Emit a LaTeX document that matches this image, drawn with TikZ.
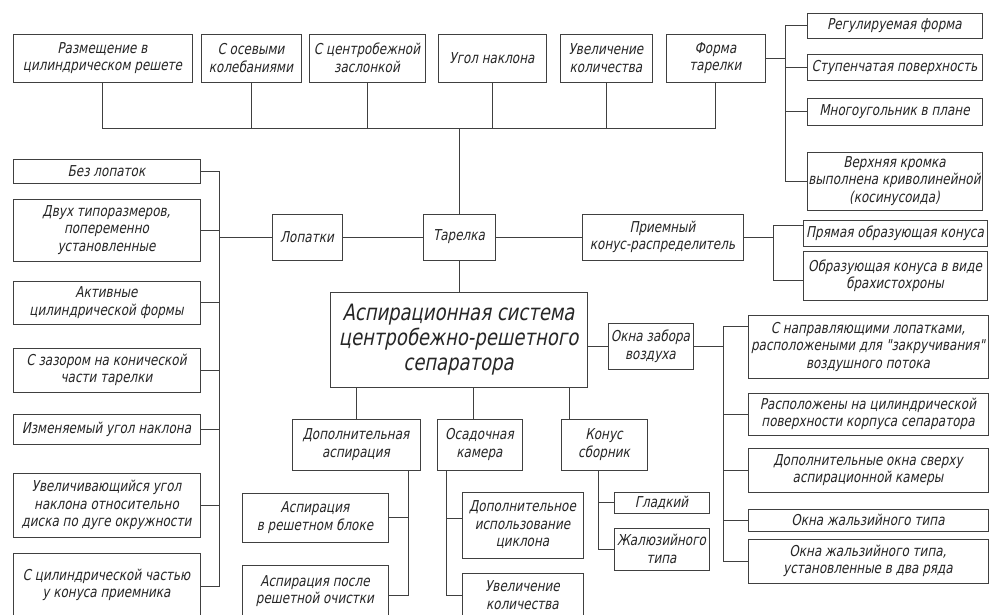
\documentclass[tikz,border=0pt]{standalone}
\usepackage{fontspec}
\newfontfamily\gost{DejaVu Sans}[FakeSlant=0.2, FakeStretch=0.8]
\begin{document}
\begin{tikzpicture}[x=1pt,y=-1pt,
  box/.style={draw=black!75, line width=0.8pt, rectangle, align=center, inner sep=1pt,
    font=\gost\fontsize{15}{17.5}\selectfont, text=black!85},
  ln/.style={draw=black!75, line width=0.8pt}]
\useasboundingbox (0,0) rectangle (989,614);
\fill[white] (0,0) rectangle (989,614);
% top row
\node[box, minimum width=179pt, minimum height=48pt] (t1) at (102.5,58) {Размещение в\\цилиндрическом решете};
\node[box, minimum width=100pt, minimum height=48pt] (t2) at (251,58) {С осевыми\\колебаниями};
\node[box, minimum width=116pt, minimum height=48pt] (t3) at (367,58) {С центробежной\\заслонкой};
\node[box, minimum width=108pt, minimum height=48pt] (t4) at (492,58) {Угол наклона};
\node[box, minimum width=92pt, minimum height=48pt] (t5) at (606,58) {Увеличение\\количества};
\node[box, minimum width=99pt, minimum height=48pt] (t6) at (715.5,58) {Форма\\тарелки};
% right of form
\node[box, minimum width=175pt, minimum height=25pt] (r1) at (894.5,25.5) {Регулируемая форма};
\node[box, minimum width=175pt, minimum height=26pt] (r2) at (894.5,67) {Ступенчатая поверхность};
\node[box, minimum width=175pt, minimum height=27pt] (r3) at (894.5,111.5) {Многоугольник в плане};
\node[box, minimum width=175pt, minimum height=58pt] (r4) at (894.5,181) {Верхняя кромка\\выполнена криволинейной\\(косинусоида)};
% middle row
\node[box, minimum width=72pt, minimum height=46pt] (tar) at (459,237) {Тарелка};
\node[box, minimum width=70pt, minimum height=46pt] (lop) at (307,237) {Лопатки};
\node[box, minimum width=161pt, minimum height=46pt] (pri) at (662.5,237) {Приемный\\конус-распределитель};
\node[box, minimum width=184pt, minimum height=26pt] (p1) at (895,233) {Прямая образующая конуса};
\node[box, minimum width=184pt, minimum height=49pt] (p2) at (895,275.5) {Образующая конуса в виде\\брахистохроны};
% left column
\node[box, minimum width=187pt, minimum height=24pt] (l1) at (106.5,171) {Без лопаток};
\node[box, minimum width=187pt, minimum height=62pt] (l2) at (106.5,230) {Двух типоразмеров,\\попеременно\\установленные};
\node[box, minimum width=187pt, minimum height=43pt] (l3) at (106.5,302.5) {Активные\\цилиндрической формы};
\node[box, minimum width=187pt, minimum height=44pt] (l4) at (106.5,370) {С зазором на конической\\части тарелки};
\node[box, minimum width=187pt, minimum height=30pt] (l5) at (106.5,429) {Изменяемый угол наклона};
\node[box, minimum width=187pt, minimum height=64pt] (l6) at (106.5,505) {Увеличивающийся угол\\наклона относительно\\диска по дуге окружности};
\node[box, minimum width=187pt, minimum height=64pt] (l7) at (106.5,585) {С цилиндрической частью\\у конуса приемника};
% main
\node[box, minimum width=257pt, minimum height=95pt, font=\gost\fontsize{22.5}{25}\selectfont] (main) at (458.5,339.5) {Аспирационная система\\центробежно-решетного\\сепаратора};
\node[box, minimum width=85pt, minimum height=46pt] (ok) at (650.5,346) {Окна забора\\воздуха};
% right column
\node[box, minimum width=240pt, minimum height=63pt] (o1) at (868,346.5) {С направляющими лопатками,\\расположеными для "закручивания"\\воздушного потока};
\node[box, minimum width=240pt, minimum height=42pt] (o2) at (868,414) {Расположены на цилиндрической\\поверхности корпуса сепаратора};
\node[box, minimum width=240pt, minimum height=44pt] (o3) at (868,470) {Дополнительные окна сверху\\аспирационной камеры};
\node[box, minimum width=240pt, minimum height=22pt] (o4) at (868,520) {Окна жальзийного типа};
\node[box, minimum width=240pt, minimum height=44pt] (o5) at (868,561) {Окна жальзийного типа,\\установленные в два ряда};
% bottom branches
\node[box, minimum width=128pt, minimum height=51pt] (d1) at (356,444.5) {Дополнительная\\аспирация};
\node[box, minimum width=85pt, minimum height=51pt] (d2) at (479.5,444.5) {Осадочная\\камера};
\node[box, minimum width=86pt, minimum height=51pt] (d3) at (604,444.5) {Конус\\сборник};
\node[box, minimum width=146pt, minimum height=49pt] (a1) at (315,517.5) {Аспирация\\в решетном блоке};
\node[box, minimum width=146pt, minimum height=52pt] (a2) at (315,591) {Аспирация после\\решетной очистки};
\node[box, minimum width=121pt, minimum height=66pt] (c1) at (522.5,525) {Дополнительное\\использование\\циклона};
\node[box, minimum width=121pt, minimum height=44pt] (c2) at (522.5,595) {Увеличение\\количества};
\node[box, minimum width=95pt, minimum height=21pt] (k1) at (661.5,502.5) {Гладкий};
\node[box, minimum width=95pt, minimum height=42pt] (k2) at (661.5,549) {Жалюзийного\\типа};
% junction coordinates
\coordinate (bus) at (tar.north |- 0,128);
\coordinate (fj) at ([xshift=20pt]t6.east);
\coordinate (lj) at ([xshift=-52pt]lop.west);
\coordinate (pj) at ([xshift=30pt]pri.east);
\coordinate (oj) at ([xshift=30pt]ok.east);
\coordinate (d1b) at ([xshift=52pt]d1.south);
\coordinate (d2b) at ([xshift=-33.5pt]d2.south);
\coordinate (d3b) at ([xshift=-6pt]d3.south);
\coordinate (d2t) at ([xshift=-6.5pt]d2.north);
\coordinate (d3t) at ([xshift=-35pt]d3.north);
% connectors
\foreach \n in {t1,t2,t3,t4,t5,t6} \draw[ln] (\n.south) |- (bus);
\draw[ln] (bus) -- (tar.north);
\draw[ln] (t6.east) -- (fj);
\foreach \n in {r1,r2,r3,r4} \draw[ln] (\n.west) -| (fj);
\draw[ln] (lop.east) -- (tar.west);
\draw[ln] (lop.west) -- (lj);
\foreach \n in {l1,l2,l3,l4,l5,l6} \draw[ln] (\n.east) -| (lj);
\draw[ln] ([yshift=-1pt]l7.east) -| (lj);
\draw[ln] (tar.east) -- (pri.west);
\draw[ln] (pri.east) -- (pj);
\draw[ln] ([yshift=8pt]p1.west) -| (pj);
\draw[ln] ([yshift=-4.5pt]p2.west) -| (pj);
\draw[ln] (tar.south) -- (tar.south |- main.north);
\draw[ln] (ok.west -| main.east) -- (ok.west);
\draw[ln] (ok.east) -- (oj);
\draw[ln] ([yshift=20pt]o1.west) -| (oj);
\foreach \n in {o2,o3,o4,o5} \draw[ln] (\n.west) -| (oj);
\draw[ln] (d1.north) -- (d1.north |- main.south);
\draw[ln] (d2t) -- (d2t |- main.south);
\draw[ln] (d3t) -- (d3t |- main.south);
\draw[ln] (a1.east) -| (d1b);
\draw[ln] ([yshift=-4pt]a2.east) -| (d1b);
\draw[ln] ([yshift=7pt]c1.west) -| (d2b);
\draw[ln] (c2.west) -| (d2b);
\draw[ln] (k1.west) -| (d3b);
\draw[ln] (k2.west) -| (d3b);
\end{tikzpicture}
\end{document}
